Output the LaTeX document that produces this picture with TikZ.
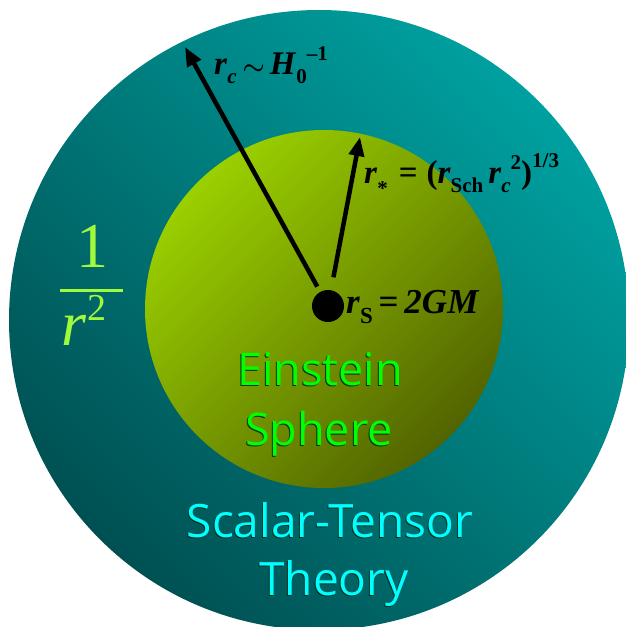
\documentclass[tikz,border=0pt]{standalone}
\usepackage{fontspec}
\setmainfont{Liberation Serif}
\newfontfamily\labelsans{Open Sans}
\usetikzlibrary{arrows.meta}
\definecolor{tealL}{RGB}{0,160,160}
\definecolor{tealD}{RGB}{0,80,82}
\definecolor{oliveL}{RGB}{155,208,0}
\definecolor{oliveD}{RGB}{82,100,0}
\definecolor{fracgreen}{RGB}{160,250,60}
\definecolor{einst}{RGB}{0,255,0}
\definecolor{scal}{RGB}{0,255,255}
\definecolor{txtshadow}{RGB}{0,50,30}
\newcommand\bi[1]{\textbf{\textit{#1}}}
\newcommand\subx[2][-7pt]{\raisebox{#1}{\fontsize{21}{21}\selectfont #2}}
\newcommand\supx[2][13pt]{\raisebox{#1}{\fontsize{21}{21}\selectfont #2}}
\begin{document}
\begin{tikzpicture}[x=1pt,y=-1pt,
  radiusarrow/.style={line width=4.5pt,-{Triangle[length=19pt,width=15pt]}},
  formula/.style={anchor=base west,inner sep=0pt,text=black},
  bigsans/.style={anchor=base,inner sep=0pt,font=\labelsans\fontsize{46}{46}\selectfont},
  fractext/.style={anchor=base,inner sep=0pt,text=fracgreen}]
\useasboundingbox (0,0) rectangle (626,627);
\begin{scope}
\clip (0,0) rectangle (626,627);
\shade[top color=tealL,bottom color=tealD,shading angle=-45] (319,320) circle[radius=310];
\end{scope}
\shade[top color=oliveL,bottom color=oliveD,shading angle=45] (324,309) circle[radius=179];
% source dot
\node[circle,fill=black,minimum size=32pt,inner sep=0pt] (src) at (328,306) {};
\coordinate (tipc) at (185,47);
\coordinate (tips) at (360,137);
\draw[radiusarrow,shorten <=6pt] (src) -- (tipc);
\draw[radiusarrow,shorten <=13pt] (src) -- (tips);
% formulas
\node[formula] (rc) at (214,74) {\fontsize{33}{33}\selectfont\bi{r}\subx[-9pt]{\bi{c}}\hspace{6pt}{\boldmath$\sim$}\hspace{5pt}\bi{H}\subx[-9pt]{\textbf{0}}\supx[14pt]{\textbf{–1}}};
\node[formula] (rstar) at (364,183) {\fontsize{33}{33}\selectfont\bi{r}\subx[-12pt]{\textbf{*}}\hspace{11pt}\textbf{=}\hspace{9pt}\textbf{(}\bi{r}\subx[-9pt]{\textbf{Sch}}\hspace{5pt}\bi{r}\subx[-9pt]{\bi{c}}\supx[14pt]{\textbf{2}}\textbf{)}\supx[16pt]{\textbf{1/3}}};
\node[formula] (rs) at (346,313) {\fontsize{35}{35}\selectfont\bi{r}\subx[-10pt]{\fontsize{23}{23}\selectfont\textbf{S}}\,\textbf{=}\,\bi{2GM}};
% 1/r^2
\node[fractext,font=\fontsize{64}{64}\selectfont] (one) at (92,267) {1};
\draw[fracgreen,line width=3pt] (60,290) -- (123,290);
\node[fractext,font=\fontsize{64}{64}\selectfont] (rr) at (84,345) {\textit{r}\raisebox{25pt}{\fontsize{38}{38}\selectfont 2}};
% labels
\node[bigsans,font=\labelsans\fontsize{45}{45}\selectfont,text=txtshadow] (e1s) at (319,386) {Einstein};
\node[bigsans,font=\labelsans\fontsize{45}{45}\selectfont,text=einst] (e1) at (320,385) {Einstein};
\node[bigsans,font=\labelsans\fontsize{45}{45}\selectfont,text=txtshadow] (e2s) at (318,446) {Sphere};
\node[bigsans,font=\labelsans\fontsize{45}{45}\selectfont,text=einst] (e2) at (319,445) {Sphere};
\node[bigsans,text=txtshadow] (s1s) at (329,538) {Scalar-Tensor};
\node[bigsans,text=scal] (s1) at (330,537) {Scalar-Tensor};
\node[bigsans,text=txtshadow] (s2s) at (333,596) {Theory};
\node[bigsans,text=scal] (s2) at (334,595) {Theory};
\end{tikzpicture}
\end{document}
